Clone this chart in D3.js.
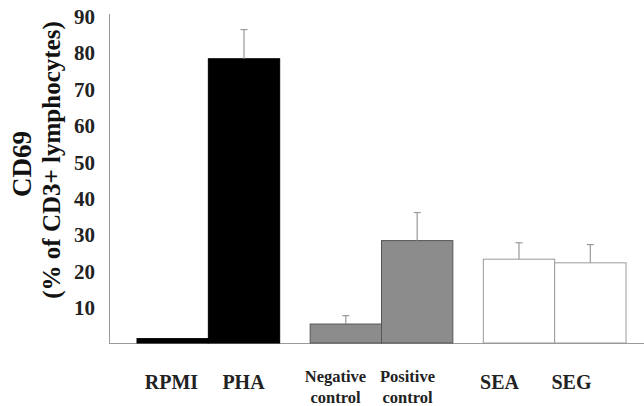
<!DOCTYPE html>
<html><head><meta charset="utf-8">
<script src="https://cdn.jsdelivr.net/npm/d3@7"></script>
<style>body{margin:0;background:#fff}</style>
</head><body>
<svg id="c" width="644" height="406" font-family="Tinos, 'Liberation Serif', serif" font-weight="bold"></svg>
<script>
const categories = ["RPMI", "PHA", "Negative control", "Positive control", "SEA", "SEG"];
const groups = ["g1", "g2", "g3"];
const groupOf = ["g1", "g1", "g2", "g2", "g3", "g3"];
const values = [1.2, 78, 5.2, 28.1, 23, 22];
const errors = [0, 8, 2.3, 7.7, 4.5, 5];
const yTicks = [10, 20, 30, 40, 50, 60, 70, 80, 90];
const labelLines = [["RPMI"], ["PHA"], ["Negative", "control"], ["Positive", "control"], ["SEA"], ["SEG"]];

const fills = {g1: "#000", g2: "#8c8c8c", g3: "#fff"};
const strokes = {g1: "#000", g2: "#555", g3: "#9a9a9a"};
const FONT = '"Tinos", "Liberation Serif", serif';

const svg = d3.select("#c");
const y = d3.scaleLinear().domain([0, 90]).range([343, 15]);
const xg = d3.scaleBand().domain(groups).range([137, 626]).paddingInner(0.176).paddingOuter(0);
const xi = d3.scaleBand().domain([0, 1]).range([0, xg.bandwidth()]);
const xLab = d3.scalePoint().domain(groups).range([207.5, 535.5]);

const barX = i => xg(groupOf[i]) + xi(i % 2);

// axis line and baseline
svg.append("line").attr("x1", 109.5).attr("x2", 109.5).attr("y1", 14).attr("y2", 343)
  .attr("stroke", "#999").attr("stroke-width", 1);
svg.append("line").attr("x1", 109).attr("x2", 644).attr("y1", 343.5).attr("y2", 343.5)
  .attr("stroke", "#999").attr("stroke-width", 1);

// tick labels
svg.selectAll("text.tick").data(yTicks).join("text")
  .attr("class", "tick")
  .attr("x", 95).attr("y", d => y(d)).attr("dy", "0.42em")
  .attr("text-anchor", "end")
  .style("font-family", FONT).style("font-weight", "bold").style("font-size", "21px")
  .attr("fill", "#222")
  .text(d => d);

// bars
svg.selectAll("rect.bar").data(values).join("rect")
  .attr("class", "bar")
  .attr("x", (d, i) => barX(i))
  .attr("width", xi.bandwidth())
  .attr("y", d => y(d))
  .attr("height", d => y(0) - y(d))
  .attr("fill", (d, i) => fills[groupOf[i]])
  .attr("stroke", (d, i) => strokes[groupOf[i]])
  .attr("stroke-width", 1);

// error bars
values.forEach((v, i) => {
  if (!errors[i]) return;
  const cx = barX(i) + xi.bandwidth() / 2;
  svg.append("line").attr("x1", cx).attr("x2", cx).attr("y1", y(v)).attr("y2", y(v + errors[i]))
    .attr("stroke", "#999").attr("stroke-width", 1.2);
  svg.append("line").attr("x1", cx - 3.5).attr("x2", cx + 3.5).attr("y1", y(v + errors[i])).attr("y2", y(v + errors[i]))
    .attr("stroke", "#999").attr("stroke-width", 1.2);
});

// category labels
labelLines.forEach((lines, i) => {
  const cx = xLab(groupOf[i]) + (i % 2 - 0.5) * 72;
  const small = lines.length > 1;
  const t = svg.append("text")
    .attr("text-anchor", "middle")
    .style("font-family", FONT).style("font-weight", "bold")
    .style("font-size", small ? "16.5px" : "20px")
    .attr("fill", "#222");
  lines.forEach((ln, k) => {
    t.append("tspan").attr("x", cx).attr("y", small ? 382 + k * 21 : 389).text(ln);
  });
});

// y title
svg.append("text")
  .attr("transform", "translate(31,164) rotate(-90)")
  .attr("text-anchor", "middle")
  .style("font-family", FONT).style("font-weight", "bold").style("font-size", "27px")
  .attr("fill", "#111")
  .text("CD69");
svg.append("text")
  .attr("transform", "translate(60,160) rotate(-90)")
  .attr("text-anchor", "middle")
  .style("font-family", FONT).style("font-weight", "bold").style("font-size", "25px")
  .attr("fill", "#111")
  .text("(% of CD3+ lymphocytes)");
</script>
</body></html>
